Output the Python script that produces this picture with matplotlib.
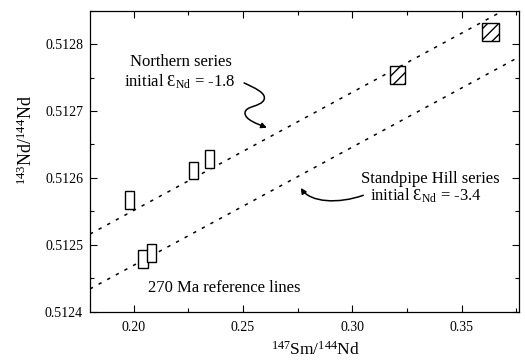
import matplotlib
matplotlib.use("Agg")
import matplotlib.pyplot as plt
from matplotlib.patches import Rectangle, FancyArrowPatch
from matplotlib.path import Path
from matplotlib.ticker import MultipleLocator, FormatStrFormatter

plt.rcParams['font.family'] = ['Liberation Serif', 'DejaVu Serif']
plt.rcParams['mathtext.fontset'] = 'custom'
plt.rcParams['mathtext.rm'] = 'Liberation Serif'
plt.rcParams['mathtext.it'] = 'Liberation Serif:italic'

# Northern series samples (147Sm/144Nd, 143Nd/144Nd, half box sizes)
north_sm = [0.1982, 0.2273, 0.2346, 0.3207, 0.3632]
north_nd = [0.512567, 0.512611, 0.512628, 0.512754, 0.512818]
north_ex = [0.0021, 0.0021, 0.0022, 0.0033, 0.0038]
north_ey = [0.0000130, 0.0000130, 0.0000130, 0.0000130, 0.0000138]
north_kind = ['open', 'open', 'open', 'hatched', 'hatched']

# Standpipe Hill series samples
sp_sm = [0.2041, 0.2082]
sp_nd = [0.512479, 0.512488]
sp_ex = [0.0023, 0.0021]
sp_ey = [0.0000137, 0.0000132]

# 270 Ma reference lines: initial ratio and slope
ref_slope = 0.001767
north_i0 = 0.512198
sp_i0 = 0.512116

fig = plt.figure(figsize=(5.25, 3.6), dpi=100)
ax = fig.add_axes([90 / 525, (360 - 311.7) / 360, (518.5 - 90) / 525, (311.7 - 10.7) / 360])

dots = (0, (2.2, 4.2))
ax.axline((0.0, north_i0), slope=ref_slope, color='black', lw=1.1, ls=dots, zorder=1)
ax.axline((0.0, sp_i0), slope=ref_slope, color='black', lw=1.1, ls=dots, zorder=1)

for x, y, ex, ey, kind in zip(north_sm, north_nd, north_ex, north_ey, north_kind):
    ax.add_patch(Rectangle((x - ex, y - ey), 2 * ex, 2 * ey, facecolor='white',
                           edgecolor='black', lw=1.0, zorder=3,
                           hatch='///' if kind == 'hatched' else None))
for x, y, ex, ey in zip(sp_sm, sp_nd, sp_ex, sp_ey):
    ax.add_patch(Rectangle((x - ex, y - ey), 2 * ex, 2 * ey, facecolor='white',
                           edgecolor='black', lw=1.0, zorder=3))

# labels
ax.text(0.2218, 0.512768, 'Northern series', ha='center', va='baseline', fontsize=12)
ax.text(0.2209, 0.512736, 'initial Ɛ$_{\\mathrm{Nd}}$ = -1.8', ha='center', va='baseline', fontsize=12)
ax.text(0.3357, 0.5125919, 'Standpipe Hill series', ha='center', va='baseline', fontsize=12)
ax.text(0.3336, 0.5125665, 'initial Ɛ$_{\\mathrm{Nd}}$ = -3.4', ha='center', va='baseline', fontsize=12)
ax.text(0.2414, 0.5124295, '270 Ma reference lines', ha='center', va='baseline', fontsize=12)

# curly arrows
north_path = Path(
    [(0.2505, 0.512742), (0.2550, 0.512735), (0.2609, 0.512727), (0.2596, 0.512717),
     (0.2582, 0.512706), (0.2509, 0.512708), (0.2509, 0.512697),
     (0.2509, 0.512687), (0.2564, 0.512681), (0.2609, 0.512675)],
    [Path.MOVETO, Path.CURVE4, Path.CURVE4, Path.CURVE4,
     Path.CURVE4, Path.CURVE4, Path.CURVE4,
     Path.CURVE4, Path.CURVE4, Path.CURVE4])
ax.add_patch(FancyArrowPatch(path=north_path, arrowstyle='-|>', mutation_scale=8,
                             color='black', lw=1.1, zorder=4))
sp_path = Path(
    [(0.3050, 0.512574), (0.2936, 0.512561), (0.2809, 0.512563), (0.2764, 0.512585)],
    [Path.MOVETO, Path.CURVE4, Path.CURVE4, Path.CURVE4])
ax.add_patch(FancyArrowPatch(path=sp_path, arrowstyle='-|>', mutation_scale=8,
                             color='black', lw=1.1, zorder=4))

ax.set_xlim(0.18, 0.376)
ax.set_ylim(0.5124, 0.51285)
ax.xaxis.set_major_locator(MultipleLocator(0.05))
ax.xaxis.set_minor_locator(MultipleLocator(0.025))
ax.yaxis.set_major_locator(MultipleLocator(0.0001))
ax.yaxis.set_minor_locator(MultipleLocator(0.00005))
ax.xaxis.set_major_formatter(FormatStrFormatter('%.2f'))
ax.yaxis.set_major_formatter(FormatStrFormatter('%.4f'))
ax.tick_params(which='both', direction='in', top=True, right=True, width=0.8, labelsize=10)
ax.tick_params(which='major', length=5)
ax.tick_params(which='minor', length=3)
ax.tick_params(axis='x', pad=7)
ax.tick_params(axis='y', pad=5)
for s in ax.spines.values():
    s.set_linewidth(0.9)

ax.set_xlabel('$^{147}\\mathrm{Sm}/^{144}\\mathrm{Nd}$', fontsize=12.5)
ax.set_ylabel('$^{143}\\mathrm{Nd}/^{144}\\mathrm{Nd}$', fontsize=13)
ax.xaxis.set_label_coords(0.525, -0.097)
ax.yaxis.set_label_coords(-0.125, 0.57)

fig.savefig('out.png', dpi=100)
